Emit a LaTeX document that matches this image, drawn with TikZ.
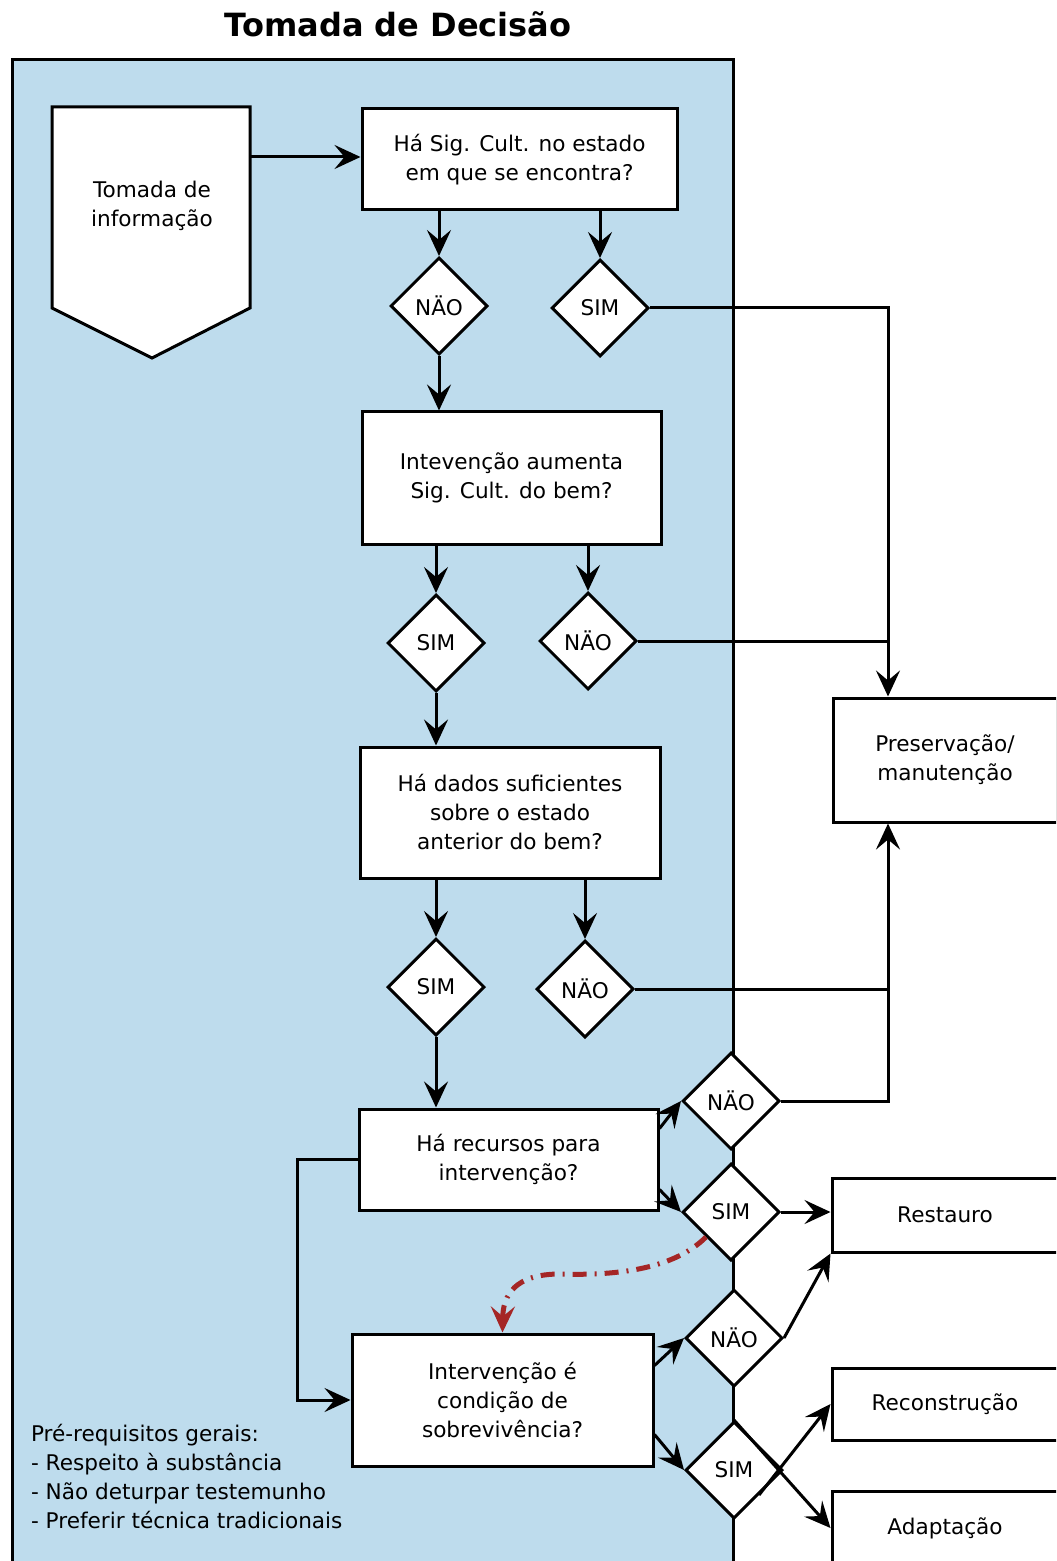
\documentclass[tikz,border=0pt]{standalone}
\usepackage{fontspec}
\setmainfont{DejaVu Sans}
\usetikzlibrary{shapes.geometric,arrows.meta}
\definecolor{painel}{RGB}{190,220,237}
\definecolor{vermelho}{RGB}{165,38,38}
\tikzset{
  caixa/.style={draw, fill=white, line width=1.5pt, align=center, inner sep=2pt},
  losango/.style={draw, fill=white, diamond, line width=1.5pt, minimum width=48.5pt, minimum height=48.5pt, inner sep=1pt},
  linha/.style={line width=1.5pt},
  seta/.style={line width=1.5pt, -{Stealth[length=13pt,width=12pt,inset=5pt]}},
}
\begin{document}
\begin{tikzpicture}[x=0.5pt,y=-0.5pt,font=\fontsize{10.8}{14.5}\selectfont]
\useasboundingbox (0,0) rectangle (1056,1561);
\clip (0,0) rectangle (1056,1561);
\node[font=\fontsize{16}{19}\selectfont\bfseries] (titulo) at (398,24) {Tomada de Decisão};
\draw[linha, fill=painel] (12,1600) -- (12,60) -- (733,60) -- (733,1600);

\draw[linha, fill=white] (52,107) -- (250,107) -- (250,308) -- (152,358) -- (52,308) -- cycle;
\node[align=center] (info) at (152,206) {Tomada de\\informação};
\coordinate (infoE) at (250,157);
\coordinate (barra) at (888,0);
\coordinate (lado) at (297,0);

\node[caixa, minimum width=157.5pt, minimum height=50.5pt] (q1) at (519.5,159.5) {Há Sig. Cult. no estado\\em que se encontra?};
\node[losango] (nao1) at (439,306) {NÄO};
\node[losango] (sim1) at (600,308) {SIM};
\node[caixa, minimum width=149.5pt, minimum height=66pt] (q2) at (511.5,478) {Intevenção aumenta\\Sig. Cult. do bem?};
\node[losango] (sim2) at (436,643) {SIM};
\node[losango] (nao2) at (588,641) {NÄO};
\node[caixa, minimum width=150pt, minimum height=65.5pt] (q3) at (510,812.5) {Há dados suficientes\\sobre o estado\\anterior do bem?};
\node[losango] (sim3) at (436,987) {SIM};
\node[losango] (nao3) at (585,989) {NÄO};
\node[caixa, minimum width=149.5pt, minimum height=50.5pt] (q4) at (508.5,1159.5) {Há recursos para\\intervenção?};
\node[losango] (nao4) at (731,1101) {NÄO};
\node[losango] (sim4) at (731,1212) {SIM};
\node[caixa, minimum width=150.5pt, minimum height=66pt] (q5) at (502.5,1400) {Intervenção é\\condição de\\sobrevivência?};
\node[losango] (nao5) at (734,1338) {NÄO};
\node[losango] (sim5) at (734,1470) {SIM};

\node[caixa, minimum width=112pt, minimum height=62pt] (pres) at (945,760) {Preservação/\\manutenção};
\node[caixa, minimum width=113pt, minimum height=37pt] (rest) at (945,1215) {Restauro};
\node[caixa, minimum width=113pt, minimum height=36pt] (recon) at (945,1404) {Reconstrução};
\node[caixa, minimum width=113pt, minimum height=36.5pt] (adapt) at (945,1528) {Adaptação};

\node[align=left, anchor=west] (prereq) at (24,1476) {Pré-requisitos gerais:\\- Respeito à substância\\- Não deturpar testemunho\\- Preferir técnica tradicionais};

\draw[seta] (infoE) -- (infoE -| q1.west);
\draw[seta] (nao1 |- q1.south) -- (nao1.north);
\draw[seta] (sim1 |- q1.south) -- (sim1.north);
\draw[seta] (nao1.south) -- (nao1 |- q2.north);
\draw[seta] (sim1.east) -| (barra |- pres.north);
\draw[seta] (sim2 |- q2.south) -- (sim2.north);
\draw[seta] (nao2 |- q2.south) -- (nao2.north);
\draw[linha] (nao2.east) -- (barra |- nao2.east);
\draw[seta] (sim2.south) -- (sim2 |- q3.north);
\draw[seta] (sim3 |- q3.south) -- (sim3.north);
\draw[seta] (nao3 |- q3.south) -- (nao3.north);
\draw[seta] (nao3.east) -| (barra |- pres.south);
\draw[seta] (sim3.south) -- (sim3 |- q4.north);
\draw[linha] (nao4.east) -| (barra |- nao3.east);
\draw[seta] ([yshift=-10.5pt]q4.north east) -- (nao4.west);
\draw[seta] ([yshift=11pt]q4.south east) -- (sim4.west);
\draw[seta] (sim4.east) -- (sim4.east -| rest.west);
\draw[seta] (q4.west) -- (lado |- q4.west) |- (q5.west);
\draw[seta, vermelho, line width=2.5pt, dash pattern=on 7pt off 4pt on 1pt off 4pt] (sim4.south west) .. controls (675,1268) and (620,1276) .. (560,1274) .. controls (515,1274) and (503,1295) .. (q5.north);
\draw[seta] ([yshift=-16.5pt]q5.north east) -- (nao5.west);
\draw[seta] ([yshift=16.5pt]q5.south east) -- (sim5.west);
\draw[seta] (nao5.east) -- (rest.south west);
\draw[seta] (sim5.north) -- (adapt.west);
\draw[seta] (sim5.south east) -- (recon.west);
\end{tikzpicture}
\end{document}
